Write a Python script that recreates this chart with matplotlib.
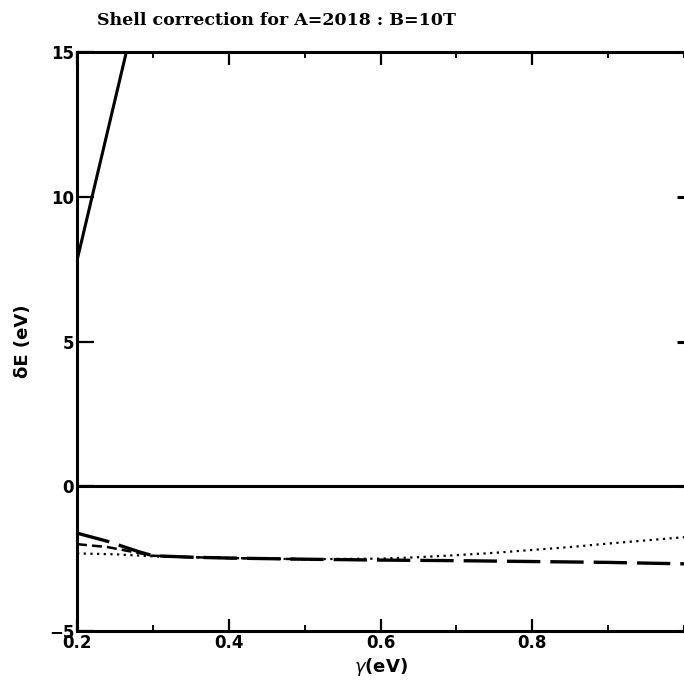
import numpy as np
import matplotlib.pyplot as plt
from matplotlib.ticker import MultipleLocator

# steep solid curve (leaves the top of the frame)
steep_x = [0.2, 0.265, 0.28]
steep_y = [7.8, 15.0, 16.7]

# zero line
zero_x = [0.2, 1.0]
zero_y = [0.0, 0.0]

# long dashed curve
long_x = [0.2, 0.24, 0.28, 0.30, 0.35, 0.4, 0.5, 0.6, 0.7, 0.8, 0.9, 1.0]
long_y = [-1.62, -1.9, -2.25, -2.4, -2.45, -2.48, -2.52, -2.55, -2.57, -2.6, -2.63, -2.68]

# short dashed curve
short_x = [0.2, 0.24, 0.28, 0.30, 0.35, 0.4, 0.5]
short_y = [-2.0, -2.1, -2.3, -2.4, -2.45, -2.48, -2.52]

# dotted curve
dot_x = [0.2, 0.25, 0.30, 0.35, 0.4, 0.5, 0.6, 0.65, 0.7, 0.75, 0.8, 0.85, 0.9, 0.95, 1.0]
dot_y = [-2.32, -2.35, -2.42, -2.45, -2.48, -2.52, -2.5, -2.45, -2.38, -2.3, -2.2, -2.1, -1.98, -1.87, -1.76]

fig = plt.figure(figsize=(6.84, 6.87), dpi=100)
ax = fig.add_axes([0.1126, 0.0815, 0.8874, 0.8428])

ax.plot(steep_x, steep_y, color='k', lw=2.2)
ax.plot(zero_x, zero_y, color='k', lw=2.2)
ax.plot(long_x, long_y, color='k', lw=2.4, dashes=(10, 3))
ax.plot(short_x, short_y, color='k', lw=1.8, dashes=(4, 2))
ax.plot(dot_x, dot_y, color='k', lw=1.6, dashes=(1, 2))

ax.set_xlim(0.2, 1.0)
ax.set_ylim(-5, 15)
ax.xaxis.set_minor_locator(MultipleLocator(0.1))
ax.yaxis.set_major_locator(MultipleLocator(5))
ax.set_xticks([0.2, 0.4, 0.6, 0.8])
ax.set_xticklabels(['0.2', '0.4', '0.6', '0.8'])
ax.tick_params(which='major', direction='in', top=True, right=False, width=1.6,
               labelsize=12, pad=2)
ax.tick_params(axis='x', which='major', length=9)
ax.tick_params(axis='y', which='major', length=12)
ax.tick_params(which='minor', direction='in', top=True, right=False, length=4, width=1.4)
for lab in ax.get_xticklabels() + ax.get_yticklabels():
    lab.set_fontweight('bold')

for s in ['left', 'bottom', 'top']:
    ax.spines[s].set_linewidth(2.2)
ax.spines['right'].set_visible(False)

# short ticks on the right edge (frame cut off there)
sec = ax.secondary_yaxis('right')
sec.yaxis.set_major_locator(MultipleLocator(5))
sec.tick_params(direction='in', length=5, width=2.2, labelright=False)
sec.spines['right'].set_visible(False)

ax.set_xlabel(r'$\gamma$(eV)', fontsize=13, fontweight='bold', labelpad=3)
ax.set_ylabel('δE (eV)', fontsize=13, fontweight='bold', labelpad=12)
fig.text(0.142, 0.982, 'Shell correction for A=2018 : B=10T', fontsize=12.5,
         fontweight='bold', family='DejaVu Serif', va='top', ha='left')

fig.savefig('out.png', dpi=100)
